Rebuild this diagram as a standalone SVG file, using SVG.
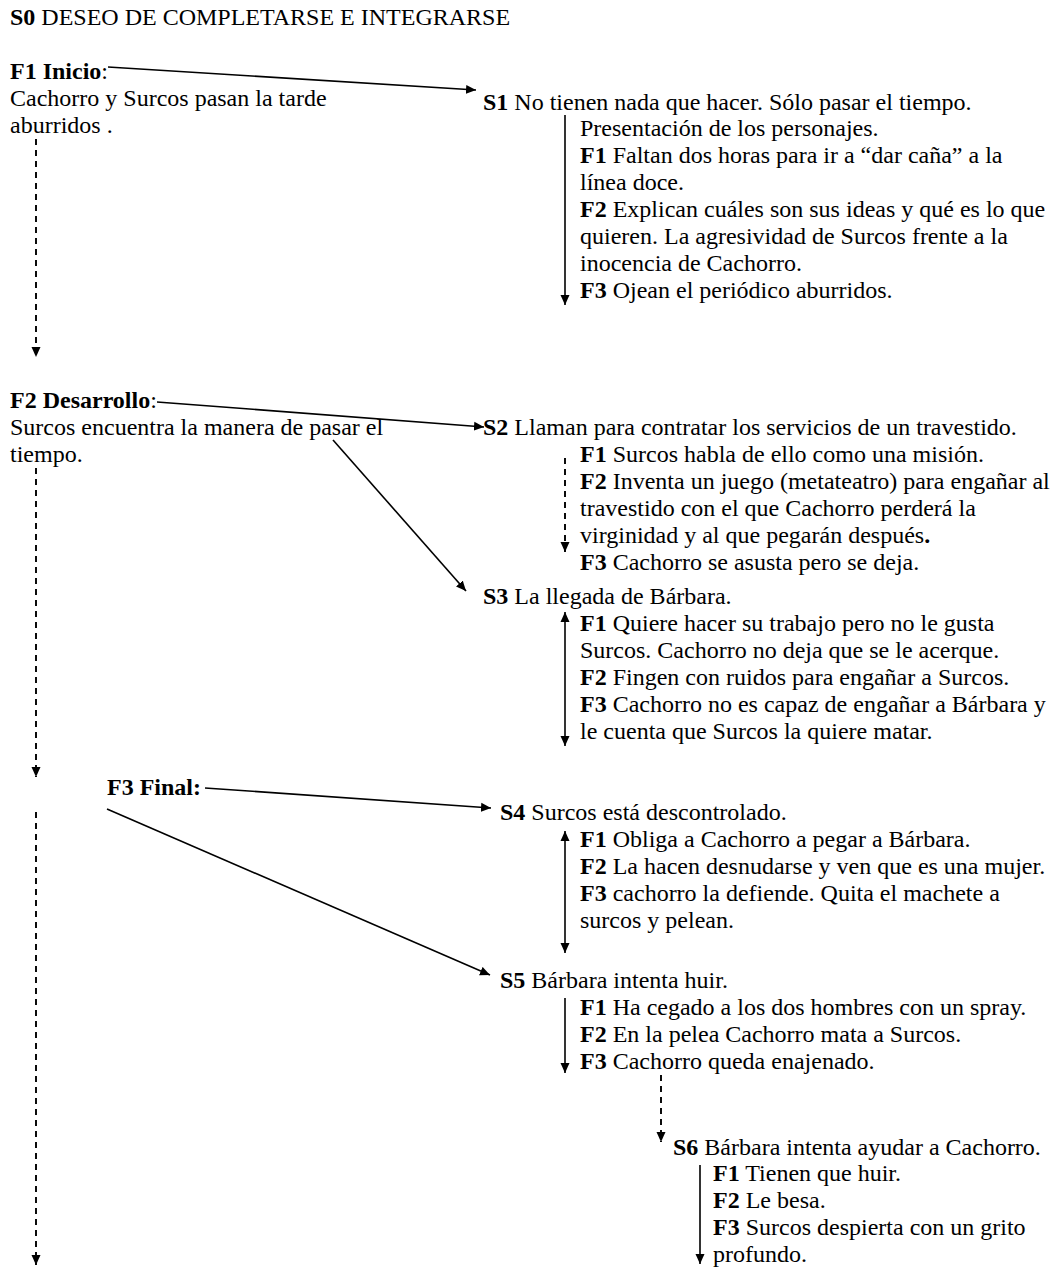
<svg xmlns="http://www.w3.org/2000/svg" width="1061" height="1270" viewBox="0 0 1061 1270">
<style>
text{font-family:"Liberation Serif","Times New Roman",serif;font-size:24px;fill:#000}
.b{font-weight:bold}
.c{stroke:#000;stroke-width:1.6;fill:none}
.d{stroke:#000;stroke-width:1.9;fill:none;stroke-dasharray:6,5}
</style>
<defs>
<marker id="ah" viewBox="0 0 10 10" refX="10" refY="5" markerWidth="10" markerHeight="10" markerUnits="userSpaceOnUse" orient="auto-start-reverse"><path d="M0,0.5 L10,5 L0,9.5 z" fill="#000"/></marker>
</defs>
<rect width="1061" height="1270" fill="#fff"/>
<g id="s0"><text x="10" y="25"><tspan class="b">S0</tspan> DESEO DE COMPLETARSE E INTEGRARSE</text></g>
<g id="f1-inicio"><text x="10" y="79"><tspan class="b">F1 Inicio</tspan>:</text><text x="10" y="106">Cachorro y Surcos pasan la tarde</text><text x="10" y="133">aburridos .</text></g>
<g id="s1"><text x="483" y="110"><tspan class="b">S1</tspan> No tienen nada que hacer. Sólo pasar el tiempo.</text>
<text x="580" y="136">Presentación de los personajes.</text>
<text x="580" y="163"><tspan class="b">F1</tspan> Faltan dos horas para ir a “dar caña” a la</text>
<text x="580" y="190">línea doce.</text>
<text x="580" y="217"><tspan class="b">F2</tspan>  Explican cuáles son sus ideas y qué es lo que</text>
<text x="580" y="244">quieren. La agresividad de Surcos frente a la</text>
<text x="580" y="271">inocencia de Cachorro.</text>
<text x="580" y="298"><tspan class="b">F3</tspan> Ojean el periódico aburridos.</text></g>
<g id="f2-desarrollo"><text x="10" y="408"><tspan class="b">F2 Desarrollo</tspan>:</text><text x="10" y="435">Surcos encuentra la manera de pasar el</text><text x="10" y="462">tiempo.</text></g>
<g id="s2"><text x="483" y="435"><tspan class="b">S2</tspan> Llaman para contratar los servicios de un travestido.</text>
<text x="580" y="462"><tspan class="b">F1</tspan> Surcos habla de ello como una misión.</text>
<text x="580" y="489"><tspan class="b">F2</tspan> Inventa un juego (metateatro) para engañar al</text>
<text x="580" y="516">travestido con el que Cachorro perderá la</text>
<text x="580" y="543">virginidad y al que pegarán después<tspan class="b">.</tspan></text>
<text x="580" y="570"><tspan class="b">F3</tspan> Cachorro se asusta pero se deja.</text></g>
<g id="s3"><text x="483" y="604"><tspan class="b">S3</tspan> La llegada de Bárbara.</text>
<text x="580" y="631"><tspan class="b">F1</tspan> Quiere hacer su trabajo pero no le gusta</text>
<text x="580" y="658">Surcos. Cachorro no deja que se le acerque.</text>
<text x="580" y="685"><tspan class="b">F2</tspan> Fingen con ruidos para engañar a Surcos.</text>
<text x="580" y="712"><tspan class="b">F3</tspan> Cachorro no es capaz de engañar a Bárbara y</text>
<text x="580" y="739">le cuenta que Surcos la quiere matar.</text></g>
<g id="f3-final"><text x="107" y="795" class="b">F3 Final:</text></g>
<g id="s4"><text x="500" y="820"><tspan class="b">S4</tspan> Surcos está descontrolado.</text>
<text x="580" y="847"><tspan class="b">F1</tspan> Obliga a Cachorro a pegar a Bárbara.</text>
<text x="580" y="874"><tspan class="b">F2</tspan> La hacen desnudarse y ven que es una mujer.</text>
<text x="580" y="901"><tspan class="b">F3</tspan> cachorro la defiende. Quita el machete a</text>
<text x="580" y="928">surcos y pelean.</text></g>
<g id="s5"><text x="500" y="988"><tspan class="b">S5</tspan> Bárbara intenta huir.</text>
<text x="580" y="1015"><tspan class="b">F1</tspan> Ha cegado a los dos hombres con un spray.</text>
<text x="580" y="1042"><tspan class="b">F2</tspan> En la pelea Cachorro mata a Surcos.</text>
<text x="580" y="1069"><tspan class="b">F3</tspan> Cachorro queda enajenado.</text></g>
<g id="s6"><text x="673" y="1155"><tspan class="b">S6</tspan> Bárbara intenta ayudar a Cachorro.</text>
<text x="713" y="1181"><tspan class="b">F1</tspan> Tienen que huir.</text>
<text x="713" y="1208"><tspan class="b">F2</tspan> Le besa.</text>
<text x="713" y="1235"><tspan class="b">F3</tspan> Surcos despierta con un grito</text>
<text x="713" y="1262">profundo.</text></g>
<g id="connectors">
<line class="c" x1="108" y1="67" x2="476" y2="90" marker-end="url(#ah)"/>
<line class="c" x1="565" y1="115" x2="565" y2="305" marker-end="url(#ah)"/>
<line class="d" x1="36" y1="139" x2="36" y2="357" marker-end="url(#ah)"/>
<line class="c" x1="157" y1="402" x2="484" y2="427" marker-end="url(#ah)"/>
<line class="d" x1="565" y1="458" x2="565" y2="552" marker-end="url(#ah)"/>
<line class="d" x1="36" y1="468" x2="36" y2="777" marker-end="url(#ah)"/>
<line class="c" x1="333" y1="440" x2="466" y2="591" marker-end="url(#ah)"/>
<line class="c" x1="565" y1="612" x2="565" y2="746" marker-start="url(#ah)" marker-end="url(#ah)"/>
<line class="c" x1="205" y1="788" x2="491" y2="808" marker-end="url(#ah)"/>
<line class="c" x1="107" y1="809" x2="490" y2="975" marker-end="url(#ah)"/>
<line class="c" x1="565" y1="831" x2="565" y2="953" marker-start="url(#ah)" marker-end="url(#ah)"/>
<line class="d" x1="36" y1="812" x2="36" y2="1265" marker-end="url(#ah)"/>
<line class="c" x1="565" y1="998" x2="565" y2="1073" marker-end="url(#ah)"/>
<line class="d" x1="661" y1="1075" x2="661" y2="1142" marker-end="url(#ah)"/>
<line class="c" x1="700" y1="1165" x2="700" y2="1264" marker-end="url(#ah)"/>
</g>
</svg>
